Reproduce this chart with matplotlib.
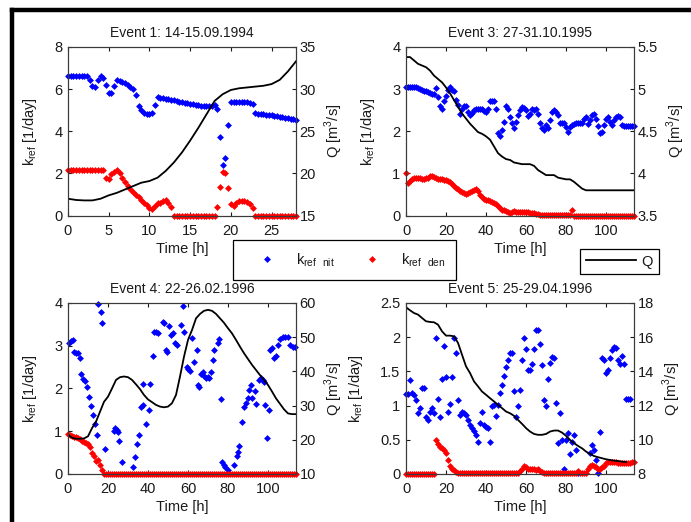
import numpy as np
import matplotlib
matplotlib.use("Agg")
import matplotlib.pyplot as plt
from matplotlib.lines import Line2D

plt.rcParams['font.family'] = ['Liberation Sans', 'DejaVu Sans']
plt.rcParams['font.size'] = 10.5
plt.rcParams['text.color'] = '#1a1a1a'
plt.rcParams['axes.labelcolor'] = '#1a1a1a'
plt.rcParams['xtick.color'] = '#1a1a1a'
plt.rcParams['ytick.color'] = '#1a1a1a'

# ---- Event 1: 14-15.09.1994 (20 min steps for k, hourly for Q) ----
k_nit1 = [6.6, 6.6, 6.6, 6.6, 6.6, 6.6, 6.6, 6.6, 6.45, 6.15, 6.1, 6.45, 6.6, 6.55,
          6.2, 5.8, 5.8, 6.15, 6.45, 6.4, 6.35, 6.3, 6.2, 6.1, 6.0, 5.7, 5.2, 5.0,
          4.88, 4.82, 4.8, 4.85, 5.25, 5.65, 5.6, 5.57, 5.55, 5.53, 5.5, 5.47, 5.44,
          5.41, 5.38, 5.35, 5.33, 5.3, 5.28, 5.25, 5.23, 5.21, 5.2, 5.2, 5.2, 5.22,
          5.25, 5.05, 3.75, 2.4, 2.75, 4.3, 5.4, 5.4, 5.4, 5.4, 5.4, 5.4, 5.38, 5.35,
          5.3, 4.85, 4.83, 4.82, 4.8, 4.78, 4.77, 4.75, 4.73, 4.72, 4.7, 4.68, 4.65,
          4.62, 4.6, 4.57, 4.55]
k_den1 = [2.17, 2.17, 2.17, 2.17, 2.17, 2.17, 2.17, 2.17, 2.17, 2.17, 2.17, 2.17,
          2.17, 2.17, 1.8, 1.75, 1.95, 2.05, 2.15, 2.0, 1.8, 1.6, 1.4, 1.25, 1.1,
          0.98, 0.88, 0.75, 0.62, 0.5, 0.35, 0.32, 0.45, 0.58, 0.62, 0.68, 0.72,
          0.62, 0.4, 0.0, 0.0, 0.0, 0.0, 0.0, 0.0, 0.0, 0.0, 0.0, 0.0, 0.0, 0.0, 0.0,
          0.0, 0.0, 0.0, 0.4, 1.37, 2.05, 2.0, 1.3, 0.55, 0.45, 0.6, 0.68, 0.7, 0.68,
          0.65, 0.55, 0.35, 0.0, 0.0, 0.0, 0.0, 0.0, 0.0, 0.0, 0.0, 0.0, 0.0, 0.0,
          0.0, 0.0, 0.0, 0.0, 0.0]
q1 = [17.0, 16.85, 16.8, 16.8, 17.0, 17.4, 17.7, 18.1, 18.5, 18.9, 19.1, 19.5, 20.3,
      21.3, 22.5, 23.9, 25.4, 27.0, 28.6, 29.4, 29.9, 30.1, 30.2, 30.3, 30.4, 30.6,
      31.1, 32.1, 33.3]

# ---- Event 3: 27-31.10.1995 (hourly k, Q every 2 h) ----
k_nit3 = [3.06, 3.06, 3.06, 3.06, 3.05, 3.04, 3.03, 3.0, 2.98, 2.96, 2.95, 2.93, 2.9,
          2.89, 2.88, 3.03, 2.81, 2.59, 2.54, 2.73, 2.83, 2.97, 3.06, 2.98, 2.95,
          2.75, 2.62, 2.42, 2.54, 2.59, 2.59, 2.46, 2.38, 2.44, 2.5, 2.52, 2.54,
          2.53, 2.52, 2.48, 2.46, 2.54, 2.73, 2.73, 2.73, 2.54, 1.95, 1.88, 2.03,
          2.23, 2.59, 2.52, 2.33, 2.19, 2.07, 2.23, 2.38, 2.5, 2.58, 2.56, 2.5, 2.36,
          2.42, 2.54, 2.5, 2.54, 2.42, 2.19, 2.07, 2.03, 2.15, 2.07, 2.27, 2.46, 2.5,
          2.46, 2.38, 2.2, 2.2, 2.2, 2.11, 1.99, 2.09, 2.15, 2.17, 2.19, 2.19, 2.19,
          2.19, 2.3, 2.34, 2.17, 2.27, 2.38, 2.41, 2.3, 2.13, 1.95, 1.99, 2.15, 2.3,
          2.34, 2.23, 2.15, 2.27, 2.33, 2.36, 2.34, 2.15, 2.13, 2.13, 2.13, 2.13,
          2.13, 2.13]
k_den3 = [1.0, 0.78, 0.82, 0.86, 0.9, 0.9, 0.9, 0.88, 0.87, 0.87, 0.88, 0.9, 0.93,
          0.94, 0.92, 0.9, 0.87, 0.86, 0.86, 0.85, 0.84, 0.82, 0.79, 0.74, 0.7, 0.66,
          0.63, 0.58, 0.55, 0.53, 0.52, 0.54, 0.56, 0.59, 0.61, 0.62, 0.58, 0.5,
          0.43, 0.39, 0.37, 0.36, 0.35, 0.33, 0.31, 0.27, 0.23, 0.18, 0.14, 0.13,
          0.12, 0.09, 0.06, 0.08, 0.1, 0.09, 0.09, 0.09, 0.09, 0.09, 0.08, 0.08,
          0.07, 0.07, 0.06, 0.04, 0.03, 0.02, 0.01, 0.01, 0.01, 0.01, 0.01, 0.01,
          0.01, 0.01, 0.01, 0.01, 0.01, 0.01, 0.01, 0.01, 0.01, 0.14, 0.0, 0.0, 0.0,
          0.0, 0.0, 0.0, 0.0, 0.0, 0.0, 0.0, 0.0, 0.0, 0.0, 0.0, 0.0, 0.0, 0.0, 0.0,
          0.0, 0.0, 0.0, 0.0, 0.0, 0.0, 0.0, 0.0, 0.0, 0.0, 0.0, 0.0, 0.0]
q3 = [5.38, 5.38, 5.34, 5.3, 5.28, 5.26, 5.22, 5.16, 5.12, 5.08, 5.02, 4.95, 4.87,
      4.79, 4.71, 4.65, 4.59, 4.54, 4.49, 4.47, 4.44, 4.4, 4.32, 4.24, 4.2, 4.17,
      4.16, 4.13, 4.12, 4.11, 4.11, 4.11, 4.09, 4.04, 4.01, 3.98, 3.98, 3.98, 3.95,
      3.94, 3.93, 3.93, 3.9, 3.86, 3.82, 3.8, 3.8, 3.8, 3.8, 3.8, 3.8, 3.8, 3.8,
      3.8, 3.8, 3.8, 3.8, 3.8]

# ---- Event 4: 22-26.02.1996 (k_nit at irregular times) ----
t_nit4 = [0.7, 1.5, 2.3, 3.2, 4.0, 4.8, 6.0, 6.5, 7.3, 8.5, 9.7, 10.7, 11.7, 12.7,
          13.7, 14.7, 14.8, 16.5, 17.0, 18.3, 23.0, 23.7, 24.5, 25.0, 25.3, 27.0,
          32.3, 33.7, 34.3, 35.3, 36.5, 37.3, 37.7, 39.0, 40.3, 41.0, 42.3, 43.2,
          44.0, 44.8, 47.3, 47.8, 49.0, 49.5, 50.7, 51.5, 52.3, 53.7, 54.5, 56.5,
          57.3, 58.2, 59.3, 60.2, 61.0, 62.0, 62.8, 64.3, 64.8, 65.7, 66.5, 67.3,
          68.2, 69.0, 69.8, 70.7, 71.5, 72.3, 73.2, 74.8, 75.7, 76.5, 77.0, 77.8,
          78.7, 79.8, 83.2, 84.3, 85.2, 85.7, 87.0, 88.2, 89.0, 89.8, 90.7, 91.5,
          92.0, 93.7, 94.0, 95.3, 96.5, 97.3, 98.2, 98.7, 99.5, 100.3, 101.0, 102.0,
          103.2, 104.0, 104.8, 106.0, 107.3, 108.7, 109.8, 111.0, 112.3, 113.7]
k_nit4 = [3.06, 3.1, 3.13, 2.86, 2.82, 2.84, 2.72, 2.35, 2.22, 2.18, 2.03, 1.81,
          1.58, 1.38, 1.17, 0.91, 3.98, 3.8, 3.52, 0.58, 1.0, 1.07, 1.03, 0.98, 0.78,
          0.27, 0.17, 0.39, 0.7, 0.91, 1.56, 2.1, 1.61, 1.18, 1.5, 2.1, 2.76, 3.31,
          3.33, 3.29, 3.56, 3.52, 2.9, 2.86, 3.45, 3.25, 3.29, 3.06, 3.02, 3.49, 3.93,
          3.33, 2.51, 2.45, 2.42, 3.17, 2.63, 2.9, 2.08, 2.03, 2.35, 2.39, 2.29, 2.24,
          2.28, 2.24, 2.39, 2.67, 2.9, 3.06, 3.15, 1.75, 0.27, 0.21, 0.17, 0.09, 0.21,
          0.41, 0.52, 0.66, 1.22, 1.56, 1.65, 1.77, 1.96, 2.08, 1.77, 1.93, 1.64, 2.2,
          2.24, 2.2, 2.16, 1.61, 0.83, 1.5, 2.89, 2.94, 2.71, 2.75, 3.02, 3.15, 3.2,
          3.2, 3.2, 3.02, 2.98, 2.98]
k_den4 = [0.94, 0.91, 0.89, 0.87, 0.86, 0.84, 0.81, 0.78, 0.75, 0.73, 0.7, 0.62, 0.5,
          0.42, 0.3, 0.33, 0.2, 0.1] + [0.0] * 97
q4 = [21.5, 20.6, 20.3, 20.3, 20.4, 21.0, 23.4, 25.3, 28.2, 31.1, 32.6, 35.0, 37.5,
      38.3, 38.5, 38.3, 37.5, 36.2, 34.8, 33.1, 31.8, 31.0, 30.2, 29.7, 29.5, 29.7,
      30.7, 33.1, 38.5, 44.3, 49.2, 52.1, 55.5, 56.8, 57.7, 58.0, 57.7, 56.8, 55.5,
      54.2, 52.6, 51.1, 49.2, 47.2, 45.3, 43.6, 41.9, 40.4, 38.9, 37.5, 36.0, 34.1,
      32.1, 30.5, 28.9, 27.7, 27.5, 27.5]

# ---- Event 5: 25-29.04.1996 (hourly k, Q every 2 h) ----
nan = np.nan
k_nit5 = [1.17, 1.17, 1.37, 1.18, 1.16, 1.08, 0.89, 0.96, 1.25, 1.25, 0.84, 0.79,
          0.91, 0.96, 0.89, 1.99, 1.09, 0.84, 1.39, 1.87, 1.42, 0.91, 1.03, 1.42,
          1.99, 1.77, 1.08, 0.86, 0.91, 0.89, 0.86, 0.79, 0.72, 0.67, 0.63, 0.57,
          0.47, 0.74, 0.9, 0.72, 0.69, 0.67, 0.47, 0.99, 1.01, 0.85, 1.01, 1.18, 1.3,
          1.43, 1.56, 1.66, 1.77, 1.77, 1.22, 0.83, 0.99, 1.23, 1.66, 1.99, 1.82,
          1.52, 1.52, 1.61, 1.82, 2.1, 2.1, 1.9, 1.6, 1.08, 0.99, 1.39, 1.62, 1.71,
          1.69, 1.04, 0.45, 0.89, 0.5, 0.07, 0.5, 0.6, 0.29, 0.47, 0.57, 0.35, 0.01,
          nan, nan, nan, nan, nan, 0.3, 0.42, 0.35, 0.2, 0.01, 0.62, 1.69, 1.67, 1.47,
          1.52, 1.69, 1.81, 1.86, 1.84, 1.67, 1.61, 1.72, 1.61, 1.09, 1.09, 1.09, nan,
          nan]
k_den5 = ([0.0] * 15 + [0.49, 0.44, 0.4, 0.38, 0.35, 0.31, 0.21, 0.12, 0.08, 0.06, 0.03]
          + [0.01] * 31
          + [0.05, 0.08, 0.12, 0.1, 0.07, 0.08, 0.07, 0.08, 0.06, 0.07, 0.05, 0.03]
          + [0.01] * 17
          + [0.05, 0.02, 0.02, 0.02, 0.02, 0.07, 0.11, 0.13, 0.12, 0.1, 0.08, 0.07,
             0.1, 0.11, 0.16, 0.17, 0.17, 0.17, 0.17, 0.18, 0.16, 0.16, 0.16, 0.16,
             0.16, 0.16, 0.16, 0.18, 0.18])
q5 = [17.75, 17.57, 17.41, 17.32, 17.12, 16.93, 16.89, 16.87, 16.73, 16.34, 16.09,
      16.09, 16.05, 15.66, 14.97, 14.29, 13.9, 13.41, 13.12, 12.82, 12.63, 12.43,
      12.24, 12.04, 11.85, 11.65, 11.55, 11.4, 11.16, 10.93, 10.68, 10.48, 10.34,
      10.29, 10.29, 10.34, 10.48, 10.54, 10.54, 10.42, 10.23, 9.99, 9.8, 9.64, 9.5,
      9.31, 9.17, 9.05, 8.98, 8.92, 8.86, 8.82, 8.78, 8.76, 8.72, 8.7]

titles = ['Event 1: 14-15.09.1994', 'Event 3: 27-31.10.1995',
          'Event 4: 22-26.02.1996', 'Event 5: 25-29.04.1996']

KLAB = r'k$_{\mathregular{ref}}$ [1/day]'
QLAB = r'Q [m$^{\mathregular{3}}$/s]'
SPINE = '#3a3a3a'
MS = 3.5


def fmt(vals):
    return ['%g' % v for v in vals]


def panel(rect, title, t_nit, k_nit, t_den, k_den, t_q, q,
          xlim, xticks, klim, kticks, qlim, qticks):
    ax = fig.add_axes(rect)
    ax.plot(t_nit, k_nit, 'D', color='blue', ms=MS, mew=0, clip_on=False)
    ax.plot(t_den, k_den, 'D', color='red', ms=MS, mew=0, clip_on=False)
    ax.set_xlim(*xlim)
    ax.set_ylim(*klim)
    ax.set_xticks(xticks)
    ax.set_yticks(kticks)
    ax.set_yticklabels(fmt(kticks))
    ax.set_title(title, fontsize=10, pad=7)
    ax.set_xlabel('Time [h]', labelpad=3)
    ax.set_ylabel(KLAB, labelpad=11)
    ax.tick_params(direction='in', length=3, width=0.8, top=True)
    ax.tick_params(axis='x', pad=6)
    ax.tick_params(axis='y', pad=4)

    axq = ax.twinx()
    axq.plot(t_q, q, color='black', lw=1.3)
    axq.set_ylim(*qlim)
    axq.set_yticks(qticks)
    axq.set_yticklabels(fmt(qticks))
    axq.set_ylabel(QLAB, labelpad=5)
    axq.tick_params(direction='in', length=3, width=0.8, pad=2.5)
    for a in (ax, axq):
        for s in a.spines.values():
            s.set_color(SPINE)
            s.set_linewidth(0.8)
    return ax


fig = plt.figure(figsize=(6.91, 5.22), dpi=100)

w, h = 0.330, 0.323
t1 = np.arange(len(k_nit1)) / 3.0
panel([0.0984, 0.587, w, h], titles[0], t1, k_nit1, t1, k_den1,
      np.arange(len(q1)), q1, (0, 28), [0, 5, 10, 15, 20, 25],
      (0, 8), [0, 2, 4, 6, 8], (15, 35), [15, 20, 25, 30, 35])

t3 = np.arange(len(k_nit3))
panel([0.5876, 0.587, w, h], titles[1], t3, k_nit3, np.arange(len(k_den3)), k_den3,
      np.arange(len(q3)) * 2, q3, (0, 114), [0, 20, 40, 60, 80, 100],
      (0, 4), [0, 1, 2, 3, 4], (3.5, 5.5), [3.5, 4, 4.5, 5, 5.5])

panel([0.0984, 0.092, w, 0.3276], titles[2], t_nit4, k_nit4,
      np.arange(len(k_den4)), k_den4,
      np.arange(len(q4)) * 2, q4, (0, 114), [0, 20, 40, 60, 80, 100],
      (0, 4), [0, 1, 2, 3, 4], (10, 60), [10, 20, 30, 40, 50, 60])

panel([0.5876, 0.092, w, 0.3276], titles[3], np.arange(len(k_nit5)), k_nit5,
      np.arange(len(k_den5)), k_den5,
      np.arange(len(q5)) * 2, q5, (0, 114), [0, 20, 40, 60, 80, 100],
      (0, 2.5), [0, 0.5, 1, 1.5, 2, 2.5], (8, 18), [8, 10, 12, 14, 16, 18])

# shared legends between the two rows
h_nit = Line2D([], [], ls='none', marker='D', color='blue', ms=MS, mew=0)
h_den = Line2D([], [], ls='none', marker='D', color='red', ms=MS, mew=0)
h_q = Line2D([], [], color='black', lw=1.3)

leg1 = fig.legend([h_nit, h_den],
                  [r'k$_{\mathregular{ref\ \ nit}}$', r'k$_{\mathregular{ref\ \ den}}$'],
                  loc='center', bbox_to_anchor=(0.4986, 0.502), ncol=2,
                  frameon=True, fancybox=False, edgecolor='black', framealpha=1,
                  handlelength=3.2, handletextpad=0.4, columnspacing=0.9,
                  borderpad=0.75, fontsize=10.5)
leg1.get_frame().set_linewidth(0.9)

leg2 = fig.legend([h_q], ['Q'], loc='center', bbox_to_anchor=(0.8965, 0.499),
                  frameon=True, fancybox=False, edgecolor='black', framealpha=1,
                  handlelength=3.4, handletextpad=0.4, borderpad=0.4, fontsize=10.5)
leg2.get_frame().set_linewidth(0.9)

# heavy frame on the top and left edges
fig.add_artist(Line2D([12 / 691, 1.0], [1 - 10 / 522, 1 - 10 / 522],
                      transform=fig.transFigure, color='black', lw=3.2))
fig.add_artist(Line2D([12 / 691, 12 / 691], [0.0, 1 - 10 / 522],
                      transform=fig.transFigure, color='black', lw=3.2))

fig.savefig('out.png', dpi=100)
